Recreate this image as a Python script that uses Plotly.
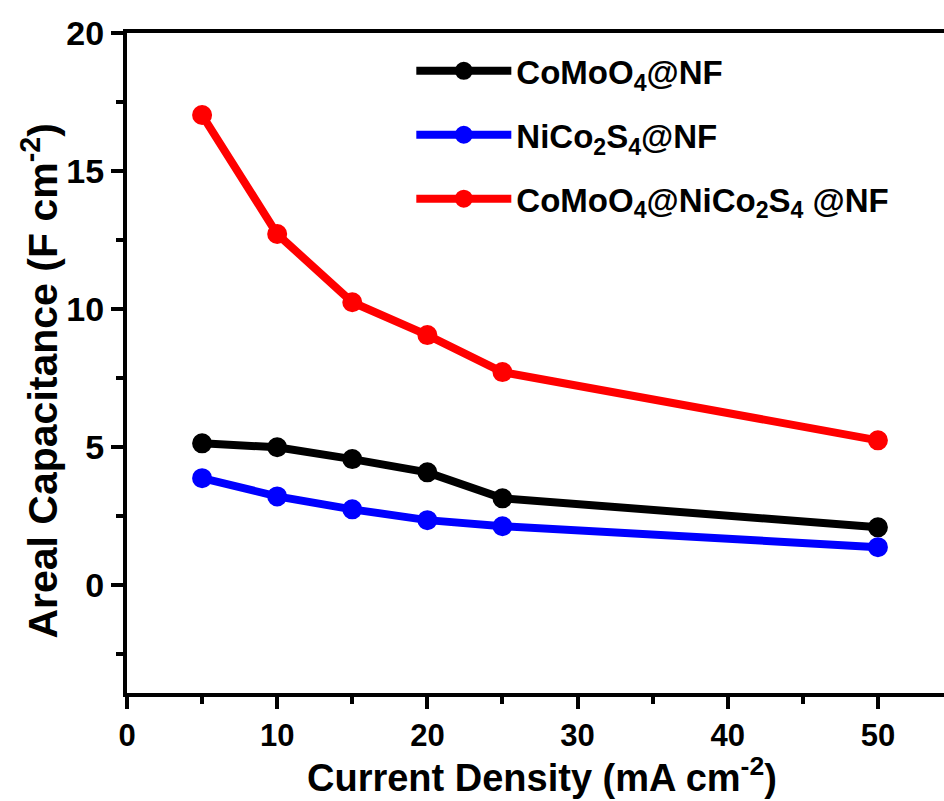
import plotly.graph_objects as go

# Current density (mA cm^-2)
current_density = [5, 10, 15, 20, 25, 50]

# Areal capacitance (F cm^-2) of each electrode
comoo4_nf = [5.14, 5.00, 4.57, 4.09, 3.15, 2.10]
nico2s4_nf = [3.88, 3.22, 2.75, 2.36, 2.14, 1.38]
comoo4_nico2s4_nf = [17.03, 12.72, 10.25, 9.06, 7.72, 5.25]

series_names = [
    "CoMoO<sub>4</sub>@NF",
    "NiCo<sub>2</sub>S<sub>4</sub>@NF",
    "CoMoO<sub>4</sub>@NiCo<sub>2</sub>S<sub>4</sub> @NF",
]
series_values = [comoo4_nf, nico2s4_nf, comoo4_nico2s4_nf]
series_colors = ["#000000", "#0000ff", "#ff0000"]

x_ticks = [0, 10, 20, 30, 40, 50]
y_ticks = [0, 5, 10, 15, 20]

FONT = "Liberation Sans, Arial, sans-serif"

fig = go.Figure()
for i, (name, vals, col) in enumerate(zip(series_names, series_values, series_colors)):
    fig.add_trace(go.Scatter(
        x=current_density, y=vals, name=name, mode="lines+markers",
        legendgroup=f"g{i}",
        line=dict(color=col, width=8),
        marker=dict(color=col, size=18, symbol="circle",
                    line=dict(color=col, width=2)),
    ))

fig.update_layout(
    width=944, height=801,
    paper_bgcolor="white", plot_bgcolor="white",
    margin=dict(l=127, r=0, t=33, b=108),
    font=dict(family=FONT, color="black", size=30),
    showlegend=True,
    legend=dict(
        x=0.348, y=0.985, xanchor="left", yanchor="top",
        bgcolor="rgba(0,0,0,0)",
        font=dict(family=FONT, size=33, color="black", weight="bold"),
        itemwidth=95,
        itemsizing="trace",
        tracegroupgap=18,
    ),
    annotations=[
        dict(text="Current Density (mA cm<sup>-2</sup>)",
             xref="paper", yref="paper", x=0.508, y=-0.124,
             xanchor="center", yanchor="middle", showarrow=False,
             font=dict(family=FONT, size=38, weight="bold", color="black")),
        dict(text="Areal Capacitance (F cm<sup>-2</sup>)",
             xref="paper", yref="paper", x=-0.107, y=0.4727,
             xanchor="center", yanchor="middle", showarrow=False, textangle=-90,
             font=dict(family=FONT, size=41, weight="bold", color="black")),
    ],
)

fig.update_xaxes(
    range=[0, 54.4], tickvals=x_ticks, ticktext=[str(v) for v in x_ticks],
    showline=True, linecolor="black", linewidth=4, mirror=True,
    ticks="outside", ticklen=12, tickwidth=4, tickcolor="black",
    minor=dict(ticks="outside", ticklen=7, tickwidth=4, tickcolor="black", dtick=5, tick0=0),
    showgrid=False, zeroline=False,
    tickfont=dict(family=FONT, size=31, weight="bold"),
)
fig.update_yaxes(
    range=[-3.9, 20], tickvals=y_ticks, ticktext=[str(v) for v in y_ticks],
    showline=True, linecolor="black", linewidth=4,
    ticks="outside", ticklen=12, tickwidth=4, tickcolor="black",
    minor=dict(ticks="outside", ticklen=7, tickwidth=4, tickcolor="black", dtick=2.5, tick0=0),
    showgrid=False, zeroline=False,
    tickfont=dict(family=FONT, size=34, weight="bold"),
)

fig.write_html("out.html")
